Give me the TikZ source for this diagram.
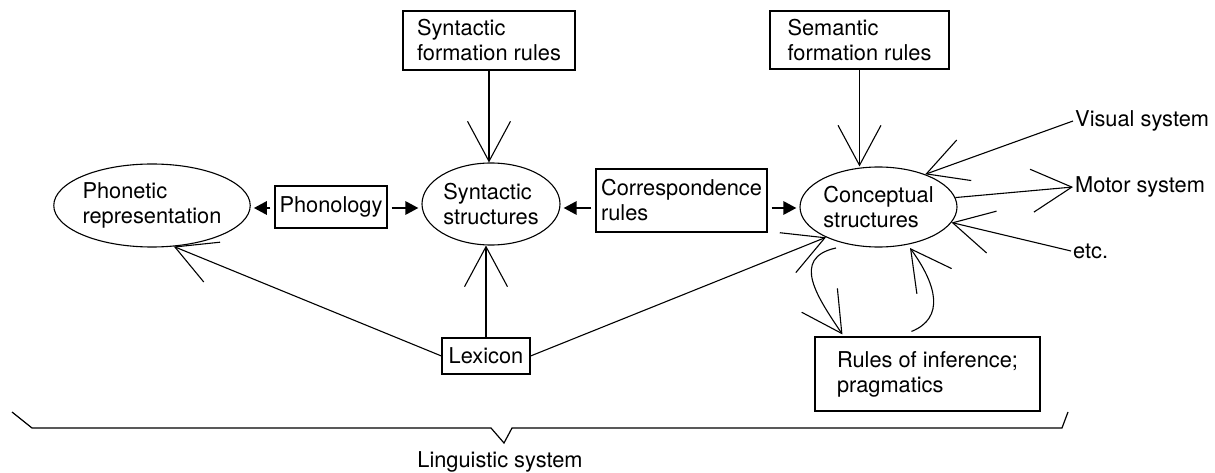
\documentclass[tikz,border=0pt]{standalone}
\usepackage{fontspec}
\setmainfont{TeX Gyre Heros}
\usetikzlibrary{arrows.meta,calc,shapes.geometric}

\begin{document}
\begin{tikzpicture}[x=1pt,y=-1pt,
  every node/.style={font=\fontsize{21.8}{25}\selectfont},
  ell/.style={draw, ellipse, line width=1.1pt, inner sep=0pt, align=left},
  rbox/.style={draw, rectangle, line width=1.1pt, inner sep=0pt, align=left},
  lbl/.style={anchor=west, inner sep=2pt},
  open/.style={line width=1.1pt, -{Straight Barb[length=40pt,width=43pt]}},
  bold/.style={line width=2.8pt, shorten <=4pt, shorten >=3pt,
               -{Triangle[length=13pt,width=13pt]}},
  conn/.style={line width=1.2pt}
]
\useasboundingbox (0,0) rectangle (1215,473);

% structures
\node[ell, minimum width=180, minimum height=83] (phon) at (152,205.5)
  {Phonetic\\representation};
\node[ell, minimum width=138, minimum height=82] (syn) at (491,204)
  {Syntactic\\structures};
\node[ell, minimum width=157, minimum height=80] (con) at (878.5,207)
  {Conceptual\\structures};

% rule components
\node[rbox, minimum width=172, minimum height=59] (sfr) at (489,40.5)
  {Syntactic\\formation rules};
\node[rbox, minimum width=179, minimum height=58] (semfr) at (859.5,40)
  {Semantic\\formation rules};
\node[rbox, minimum width=112, minimum height=42] (pho) at (331,207)
  {Phonology};
\node[rbox, minimum width=171, minimum height=63] (corr) at (681.5,200.5)
  {Correspondence\\rules};
\node[rbox, minimum width=88, minimum height=36] (lex) at (486,356)
  {Lexicon};
\node[rbox, minimum width=225, minimum height=74] (rules) at (927.5,374)
  {Rules of inference;\\pragmatics};

% outside systems
\node[lbl] (vis) at (1073,121) {Visual system};
\node[lbl] (mot) at (1073,187) {Motor system};
\node[lbl] (etc) at (1071,251) {etc.};

% interface arrows
\coordinate (mid) at (0,208);
\draw[bold] (pho.west |- mid) -- (phon.east |- mid);
\draw[bold] (pho.east |- mid) -- (syn.west |- mid);
\draw[bold] (corr.west |- mid) -- (syn.east |- mid);
\draw[bold] (corr.east |- mid) -- (con.west |- mid);

% formation rules and lexicon
\draw[open] (sfr.south) -- (sfr.south |- syn.north);
\draw[open] (semfr.south) -- (semfr.south |- con.north);
\draw[open] (lex.north) -- (lex.north |- syn.south);
\draw[open] (lex.west) -- (phon.-62);
\draw[open] (lex.east) -- (con.210);

% links to other faculties
\draw[open] (vis.west) -- (con.35);
\draw[open] (con.7) -- (mot.west);
\draw[open] (etc.west) -- (con.-12);

% inference loop
\draw[open] ($(con.center)+(-42.5,41)$) .. controls (790,258) and (818,298) ..
  ($(rules.north west)+(28,-2)$);
\draw[open] ($(rules.north west)+(97,-5)$) .. controls (945,318) and (937,285) ..
  ($(con.center)+(31.5,41)$);

% brace under the linguistic system
\draw[conn] (12,412) -- (32,428) -- (491,428) -- (504,443) -- (512,428)
  -- (1062,428) -- (1068,412);
\node (ling) at (500,462) {Linguistic system};
\end{tikzpicture}
\end{document}
